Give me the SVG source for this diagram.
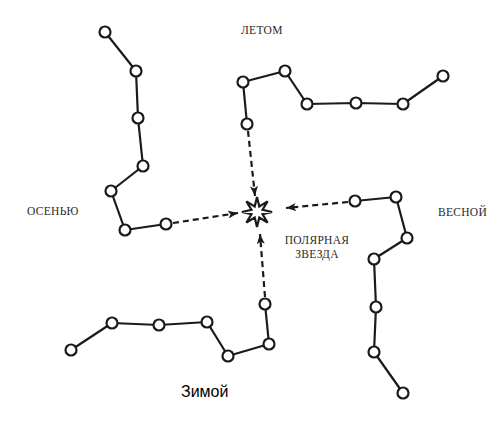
<svg xmlns="http://www.w3.org/2000/svg" width="501" height="424" viewBox="0 0 501 424">
<style>
.bg{fill:#ffffff}
.line{fill:none;stroke:#1a1a1a;stroke-width:2.2;stroke-linejoin:round}
.dash{fill:none;stroke:#1a1a1a;stroke-width:2.2;stroke-dasharray:6 4}
.star circle{fill:#ffffff;stroke:#1a1a1a;stroke-width:2.2}
.polaris{fill:#ffffff;stroke:#1a1a1a;stroke-width:2.2;stroke-linejoin:miter}
.lbl{font-family:"Liberation Serif","Times New Roman",serif;font-size:11.5px;fill:#2a2a2a;letter-spacing:0.3px}
.zim{font-family:"Liberation Sans",Arial,sans-serif;font-size:16px;fill:#000000}
</style>
<defs>
<marker id="ah" viewBox="0 0 10 8" refX="10" refY="4" markerWidth="10" markerHeight="8" markerUnits="userSpaceOnUse" orient="auto">
<path d="M0,0 L10,4 L0,8 L2.5,4 z" fill="#1a1a1a"/>
</marker>
</defs>
<rect class="bg" x="0" y="0" width="501" height="424"/>
<g id="connectors">
<polyline class="line" points="105,32 136,71 138,118 143,166 111,191 125,230 166,224"/>
<polyline class="line" points="443,76 403,104 356,103 307,104 285,71 243,82 247,124"/>
<polyline class="line" points="355,201 396,197 407,238 374,259 376,307 374,352 403,393"/>
<polyline class="line" points="71,350 112,323 159,325 207,322 228,356 269,344 265,304"/>
<line class="dash" x1="173" y1="223" x2="238" y2="213" marker-end="url(#ah)"/>
<line class="dash" x1="248" y1="131" x2="255" y2="196" marker-end="url(#ah)"/>
<line class="dash" x1="348" y1="202" x2="286" y2="208" marker-end="url(#ah)"/>
<line class="dash" x1="265" y1="297" x2="260" y2="234" marker-end="url(#ah)"/>
</g>
<g id="autumn" class="star">
<circle cx="105" cy="32" r="5.5"/><circle cx="136" cy="71" r="5.5"/><circle cx="138" cy="118" r="5.5"/><circle cx="143" cy="166" r="5.5"/><circle cx="111" cy="191" r="5.5"/><circle cx="125" cy="230" r="5.5"/><circle cx="166" cy="224" r="5.5"/>
</g>
<g id="summer" class="star">
<circle cx="443" cy="76" r="5.5"/><circle cx="403" cy="104" r="5.5"/><circle cx="356" cy="103" r="5.5"/><circle cx="307" cy="104" r="5.5"/><circle cx="285" cy="71" r="5.5"/><circle cx="243" cy="82" r="5.5"/><circle cx="247" cy="124" r="5.5"/>
</g>
<g id="spring" class="star">
<circle cx="355" cy="201" r="5.5"/><circle cx="396" cy="197" r="5.5"/><circle cx="407" cy="238" r="5.5"/><circle cx="374" cy="259" r="5.5"/><circle cx="376" cy="307" r="5.5"/><circle cx="374" cy="352" r="5.5"/><circle cx="403" cy="393" r="5.5"/>
</g>
<g id="winter" class="star">
<circle cx="71" cy="350" r="5.5"/><circle cx="112" cy="323" r="5.5"/><circle cx="159" cy="325" r="5.5"/><circle cx="207" cy="322" r="5.5"/><circle cx="228" cy="356" r="5.5"/><circle cx="269" cy="344" r="5.5"/><circle cx="265" cy="304" r="5.5"/>
</g>
<g id="polaris">
<polygon class="polaris" points="257,197 259.3,206.46 267.61,201.39 262.54,209.7 272,212 262.54,214.3 267.61,222.61 259.3,217.54 257,227 254.7,217.54 246.39,222.61 251.46,214.3 242,212 251.46,209.7 246.39,201.39 254.7,206.46"/>
</g>
<g id="labels">
<text class="lbl" x="241" y="34">ЛЕТОМ</text>
<text class="lbl" x="27" y="215">ОСЕНЬЮ</text>
<text class="lbl" x="438" y="216">ВЕСНОЙ</text>
<text class="lbl" x="317" y="244" text-anchor="middle">ПОЛЯРНАЯ</text>
<text class="lbl" x="317" y="258" text-anchor="middle">ЗВЕЗДА</text>
<text class="zim" x="181" y="397">Зимой</text>
</g>
</svg>
